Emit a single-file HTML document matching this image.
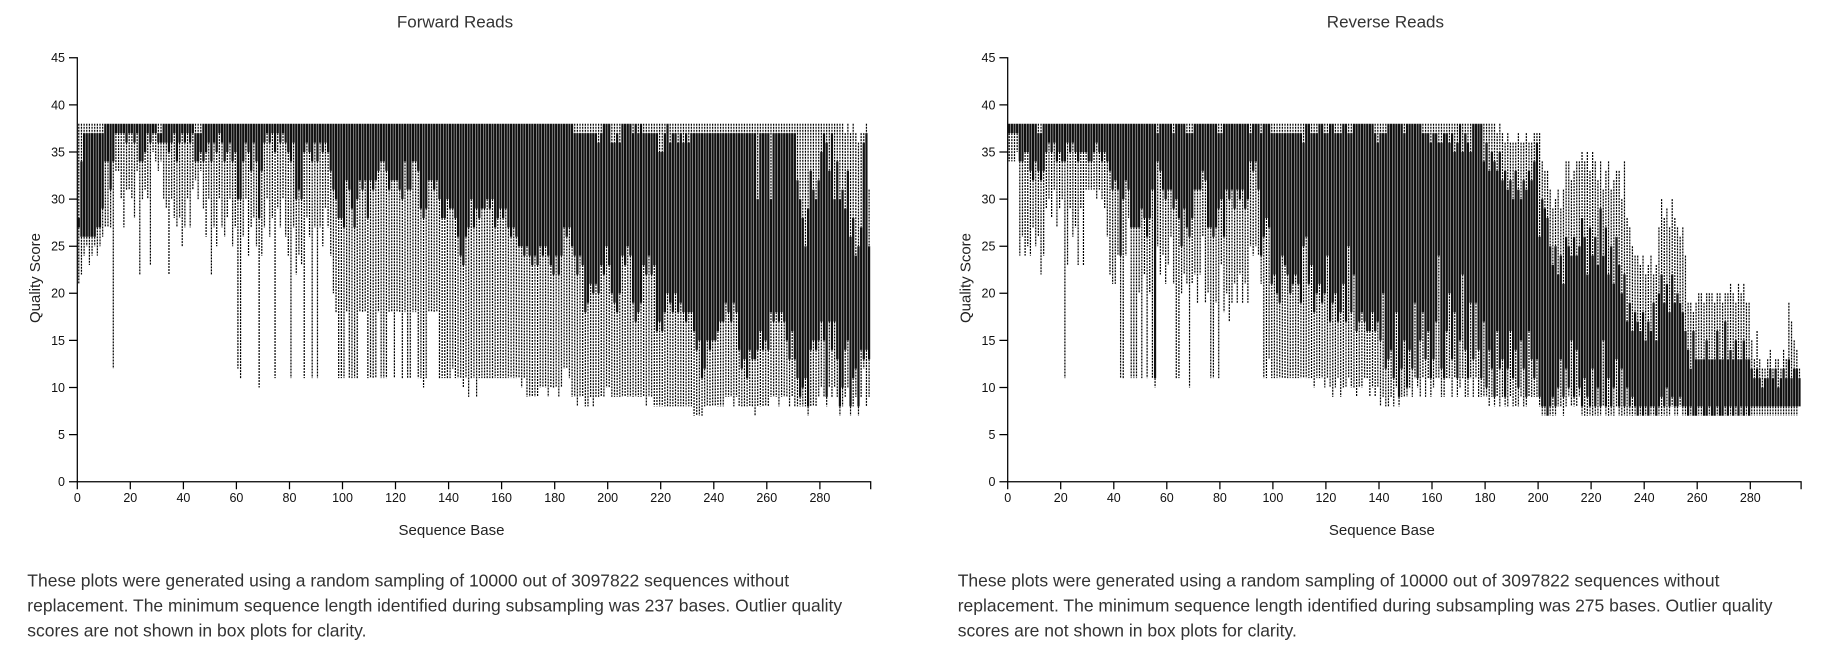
<!DOCTYPE html>
<html><head><meta charset="utf-8"><style>
html,body{margin:0;padding:0;background:#fff;}
svg{display:block;}
text{font-family:"Liberation Sans",Arial,sans-serif;}
</style></head><body>
<svg width="1836" height="648" viewBox="0 0 1836 648" xmlns="http://www.w3.org/2000/svg">
<rect width="1836" height="648" fill="#fff"/>

<!-- Forward data -->
<g transform="matrix(2.652,0,0,-9.42,78.8,481.7)" fill="none">
<path stroke="#111" stroke-width="0.83" d="M0 28V27M1 34V26M2 37V26M3 37V26M4 37V26M5 37V26M6 37V26M7 37V27M8 37V27M9 37V29M10 38V34M11 38V34M12 38V31M13 38V34M14 38V37M15 38V37M16 38V37M17 38V37M18 38V36M19 38V37M20 38V37M21 38V36M22 38V37M23 38V34M24 38V34M25 38V35M26 38V37M27 38V36M28 38V37M29 38V37M30 37V36M31 37V36M32 38V36M33 38V36M34 38V35M35 38V36M36 38V37M37 38V34M38 38V36M39 38V37M40 38V36M41 38V37M42 38V36M43 38V37M44 37V34M45 37V34M46 37V35M47 38V34M48 38V35M49 38V36M50 38V34M51 38V36M52 38V35M53 38V37M54 38V36M55 38V34M56 38V35M57 38V36M58 38V34M59 38V35M60 38V30M61 38V30M62 38V34M63 38V36M64 38V35M65 38V33M66 38V36M67 38V34M68 38V28M69 38V33M70 38V36M71 38V37M72 38V36M73 38V37M74 38V35M75 38V37M76 38V36M77 38V37M78 38V36M79 38V35M80 38V34M81 38V36M82 38V30M83 38V31M84 38V30M85 38V35M86 38V36M87 38V35M88 38V34M89 38V36M90 38V34M91 38V36M92 38V35M93 38V36M94 38V35M95 38V33M96 38V31M97 38V30M98 38V28M99 38V28M100 38V27M101 38V32M102 38V31M103 38V29M104 38V27M105 38V30M106 38V32M107 38V31M108 38V32M109 38V28M110 38V32M111 38V31M112 38V32M113 38V33M114 38V34M115 38V34M116 38V33M117 38V31M118 38V32M119 38V32M120 38V32M121 38V31M122 38V30M123 38V34M124 38V31M125 38V31M126 38V34M127 38V34M128 38V33M129 38V29M130 38V28M131 38V29M132 38V32M133 38V32M134 38V31M135 38V32M136 38V30M137 38V28M138 38V28M139 38V30M140 38V29M141 38V29M142 38V28M143 38V26M144 38V24M145 38V23M146 38V26M147 38V27M148 38V30M149 38V27M150 38V29M151 38V28M152 38V29M153 38V29M154 38V30M155 38V29M156 38V30M157 38V27M158 38V28M159 38V29M160 38V28M161 38V29M162 38V27M163 38V26M164 38V27M165 38V26M166 38V25M167 38V25M168 38V24M169 38V25M170 38V24M171 38V23M172 38V24M173 38V23M174 38V25M175 38V24M176 38V25M177 38V24M178 38V23M179 38V22M180 38V24M181 38V22M182 38V24M183 38V27M184 38V26M185 38V27M186 38V25M187 37V24M188 37V22M189 37V24M190 37V23M191 37V18M192 37V19M193 37V21M194 37V20M195 37V21M196 36V20M197 37V23M198 38V22M199 38V25M200 38V23M201 36V20M202 36V19M203 37V18M204 36V20M205 38V24M206 38V23M207 38V25M208 38V24M209 37V19M210 38V17M211 37V18M212 38V19M213 37V23M214 37V22M215 37V24M216 37V22M217 37V23M218 37V16M219 35V17M220 35V16M221 37V18M222 38V20M223 36V19M224 37V18M225 37V20M226 36V18M227 37V19M228 36V18M229 37V17M230 36V18M231 37V18M232 37V16M233 37V14M234 37V15M235 37V11M236 37V12M237 37V15M238 37V14M239 37V15M240 37V15M241 37V16M242 37V17M243 37V17M244 37V19M245 37V18M246 37V17M247 37V19M248 37V18M249 37V14M250 37V12M251 37V13M252 37V11M253 37V14M254 37V13M255 37V13M256 30V14M257 37V16M258 37V14M259 37V15M260 37V14M261 30V18M262 37V17M263 37V18M264 37V17M265 37V18M266 37V17M267 37V15M268 37V13M269 37V16M270 37V13M271 32V11M272 30V9M273 28V10M274 25V11M275 29V8M276 33V14M277 31V15M278 30V14M279 32V15M280 35V17M281 37V15M282 36V9M283 33V17M284 37V14M285 30V17M286 34V13M287 30V8M288 31V10M289 29V14M290 33V15M291 26V8M292 28V11M293 24V12M294 25V8M295 27V14M296 36V13M297 37V14M298 25V13"/>
<path stroke="#000" stroke-width="0.4525" stroke-dasharray="0.2123 0.1062" d="M0 38V28M0 27V21M1 38V34M1 26V22M2 38V37M2 26V24M3 38V37M3 26V25M4 38V37M4 26V23M5 38V37M5 26V24M6 38V37M6 26V25M7 38V37M7 27V24M8 38V37M8 27V25M9 38V37M9 29V26M10 34V27M11 34V27M12 31V27M13 34V12M14 37V33M15 37V33M16 37V30M17 37V27M18 36V31M19 37V31M20 37V30M21 36V28M22 37V33M23 34V22M24 34V30M25 35V31M26 37V30M27 36V23M28 37V35M29 37V34M30 38V37M30 36V33M31 38V37M31 36V34M32 36V30M33 36V29M34 35V22M35 36V30M36 37V28M37 34V27M38 36V28M39 37V25M40 36V27M41 37V30M42 36V27M43 37V31M44 38V37M44 34V32M45 38V37M45 34V30M46 38V37M46 35V33M47 34V29M48 35V26M49 36V30M50 34V22M51 36V27M52 35V25M53 37V30M54 36V27M55 34V26M56 35V28M57 36V30M58 34V25M59 35V27M60 30V12M61 30V11M62 34V26M63 36V30M64 35V24M65 33V27M66 36V28M67 34V25M68 28V10M69 33V24M70 36V27M71 37V30M72 36V26M73 37V28M74 35V11M75 37V29M76 36V27M77 37V30M78 36V26M79 35V24M80 34V11M81 36V27M82 30V22M83 31V24M84 30V23M85 35V11M86 36V28M87 35V26M88 34V11M89 36V27M90 34V11M91 36V27M92 35V25M93 36V29M94 35V27M95 33V24M96 31V20M97 30V18M98 28V11M99 28V11M100 27V11M101 32V18M102 31V11M103 29V11M104 27V11M105 30V11M106 32V18M107 31V18M108 32V18M109 28V11M110 32V11M111 31V11M112 32V11M113 33V18M114 34V11M115 34V11M116 33V11M117 31V18M118 32V18M119 32V11M120 32V18M121 31V18M122 30V11M123 34V18M124 31V11M125 31V11M126 34V18M127 34V18M128 33V11M129 29V11M130 28V10M131 29V11M132 32V18M133 32V18M134 31V18M135 32V18M136 30V11M137 28V11M138 28V11M139 30V11M140 29V11M141 29V12M142 28V11M143 26V11M144 24V11M145 23V10M146 26V11M147 27V9M148 30V11M149 27V11M150 29V9M151 28V11M152 29V11M153 29V11M154 30V11M155 29V11M156 30V11M157 27V11M158 28V11M159 29V11M160 28V11M161 29V11M162 27V11M163 26V11M164 27V11M165 26V11M166 25V11M167 25V10M168 24V11M169 25V9M170 24V9M171 23V9M172 24V9M173 23V9M174 25V10M175 24V10M176 25V10M177 24V9M178 23V10M179 22V10M180 24V10M181 22V9M182 24V10M183 27V12M184 26V12M185 27V11M186 25V9M187 38V37M187 24V9M188 38V37M188 22V8M189 38V37M189 24V9M190 38V37M190 23V9M191 38V37M191 18V8M192 38V37M192 19V8M193 38V37M193 21V9M194 38V37M194 20V8M195 38V37M195 21V9M196 38V36M196 20V9M197 38V37M197 23V9M198 22V9M199 25V10M200 23V10M201 38V36M201 20V9M202 38V36M202 19V9M203 38V37M203 18V9M204 38V36M204 20V9M205 24V9M206 23V9M207 25V9M208 24V9M209 38V37M209 19V9M210 17V9M211 38V37M211 18V9M212 19V9M213 38V37M213 23V9M214 38V37M214 22V8M215 38V37M215 24V9M216 38V37M216 22V9M217 38V37M217 23V8M218 38V37M218 16V8M219 38V35M219 17V8M220 38V35M220 16V8M221 38V37M221 18V8M222 20V8M223 38V36M223 19V8M224 38V37M224 18V8M225 38V37M225 20V8M226 38V36M226 18V8M227 38V37M227 19V8M228 38V36M228 18V8M229 38V37M229 17V8M230 38V36M230 18V8M231 38V37M231 18V8M232 38V37M232 16V7M233 38V37M233 14V7M234 38V37M234 15V7M235 38V37M235 11V7M236 38V37M236 12V8M237 38V37M237 15V8M238 38V37M238 14V8M239 38V37M239 15V8M240 38V37M240 15V8M241 38V37M241 16V8M242 38V37M242 17V8M243 38V37M243 17V8M244 38V37M244 19V9M245 38V37M245 18V9M246 38V37M246 17V9M247 38V37M247 19V8M248 38V37M248 18V9M249 38V37M249 14V8M250 38V37M250 12V8M251 38V37M251 13V8M252 38V37M252 11V8M253 38V37M253 14V8M254 38V37M254 13V8M255 38V37M255 13V7M256 38V30M256 14V8M257 38V37M257 16V8M258 38V37M258 14V8M259 38V37M259 15V8M260 38V37M260 14V8M261 38V30M261 18V9M262 38V37M262 17V9M263 38V37M263 18V9M264 38V37M264 17V8M265 38V37M265 18V9M266 38V37M266 17V9M267 38V37M267 15V9M268 38V37M268 13V8M269 38V37M269 16V9M270 38V37M270 13V8M271 38V32M271 11V8M272 38V30M272 9V8M273 38V28M273 10V8M274 38V25M274 11V8M275 38V29M275 8V7M276 38V33M276 14V8M277 38V31M277 15V8M278 38V30M278 14V8M279 38V32M279 15V9M280 38V35M280 17V10M281 38V37M281 15V9M282 38V36M282 9V8M283 38V33M283 17V10M284 38V37M284 14V9M285 38V30M285 17V10M286 38V34M286 13V9M287 38V30M287 8V7M288 38V31M288 10V8M289 37V29M289 14V9M290 38V33M290 15V10M291 37V26M291 8V7M292 38V28M292 11V8M293 37V24M293 12V9M294 36V25M294 8V7M295 37V27M295 14V9M296 37V36M296 13V12M297 38V37M297 14V8M298 31V25M298 13V9"/>
</g>

<!-- Reverse data -->
<g transform="matrix(2.652,0,0,-9.42,1009.2,481.7)" fill="none">
<path stroke="#111" stroke-width="0.83" d="M0 38V37M1 38V37M2 38V37M3 38V37M4 38V34M5 38V34M6 38V35M7 38V35M8 38V33M9 38V32M10 38V34M11 37V33M12 37V32M13 38V33M14 38V35M15 38V36M16 38V35M17 38V36M18 38V34M19 38V35M20 38V34M21 38V34M22 38V36M23 38V35M24 38V36M25 38V35M26 38V34M27 38V35M28 38V35M29 38V35M30 38V34M31 38V34M32 38V35M33 38V36M34 38V35M35 38V34M36 38V35M37 38V34M38 38V33M39 38V31M40 38V32M41 38V31M42 38V24M43 38V30M44 38V32M45 38V31M46 38V27M47 38V27M48 38V27M49 38V27M50 38V29M51 38V28M52 38V26M53 38V28M54 38V31M55 38V11M56 37V34M57 38V33M58 38V31M59 38V30M60 38V31M61 38V31M62 37V29M63 38V30M64 38V28M65 38V25M66 38V29M67 37V27M68 37V26M69 37V28M70 38V31M71 38V31M72 38V31M73 38V33M74 38V32M75 38V27M76 38V27M77 38V26M78 38V27M79 37V29M80 37V30M81 38V26M82 38V31M83 38V30M84 38V31M85 38V29M86 38V31M87 38V30M88 38V31M89 38V29M90 38V30M91 37V34M92 38V33M93 38V34M94 38V31M95 37V24M96 38V26M97 38V28M98 38V27M99 37V21M100 37V22M101 37V20M102 37V19M103 37V24M104 37V23M105 37V22M106 37V20M107 37V21M108 37V22M109 37V21M110 37V19M111 36V25M112 38V26M113 38V21M114 37V23M115 37V18M116 37V20M117 38V21M118 38V19M119 37V20M120 37V24M121 38V17M122 38V19M123 37V20M124 37V17M125 37V18M126 38V21M127 38V17M128 37V25M129 37V18M130 38V22M131 38V16M132 38V17M133 38V18M134 38V17M135 38V16M136 38V16M137 38V18M138 37V16M139 36V17M140 37V15M141 37V20M142 37V12M143 38V13M144 38V14M145 38V11M146 38V18M147 38V9M148 38V12M149 37V15M150 38V10M151 38V14M152 38V12M153 38V19M154 38V11M155 38V15M156 37V18M157 37V13M158 37V16M159 36V11M160 37V13M161 37V17M162 36V24M163 36V12M164 37V11M165 37V16M166 36V20M167 37V13M168 35V18M169 36V11M170 38V15M171 35V22M172 37V14M173 36V11M174 35V19M175 38V13M176 38V19M177 38V14M178 38V11M179 34V17M180 36V10M181 33V14M182 35V12M183 34V9M184 33V16M185 35V12M186 32V13M187 33V9M188 31V12M189 32V16M190 30V11M191 33V14M192 31V10M193 30V15M194 32V12M195 31V9M196 33V16M197 32V13M198 34V11M199 36V13M200 26V9M201 30V8M202 29V8M203 28V7M204 25V8M205 23V9M206 25V8M207 22V10M208 24V13M209 21V9M210 26V12M211 25V10M212 24V15M213 26V9M214 24V14M215 25V10M216 28V8M217 26V11M218 22V9M219 27V8M220 24V12M221 26V8M222 23V10M223 29V8M224 24V15M225 27V8M226 22V11M227 25V8M228 21V10M229 26V13M230 23V8M231 20V12M232 22V8M233 17V10M234 19V8M235 16V9M236 18V8M237 17V7M238 16V8M239 18V7M240 15V8M241 17V7M242 16V8M243 19V8M244 15V7M245 20V8M246 22V9M247 19V8M248 21V10M249 18V8M250 22V9M251 19V8M252 20V8M253 19V9M254 18V8M255 16V8M256 14V7M257 12V8M258 16V7M259 13V7M260 13V8M261 13V8M262 13V7M263 15V7M264 13V8M265 13V7M266 13V7M267 16V8M268 13V7M269 13V7M270 17V8M271 13V7M272 14V8M273 13V7M274 15V8M275 13V7M276 13V8M277 15V7M278 13V8M279 13V7M280 12V8M281 11V8M282 12V8M283 11V8M284 10V8M285 11V8M286 11V8M287 12V8M288 11V8M289 12V8M290 10V8M291 11V8M292 12V8M293 11V8M294 13V8M295 11V8M296 12V8M297 12V8M298 11V8"/>
<path stroke="#000" stroke-width="0.4525" stroke-dasharray="0.2123 0.1062" d="M0 37V34M1 37V34M2 37V34M3 37V35M4 34V24M5 34V26M6 35V24M7 35V25M8 33V24M9 32V27M10 34V25M11 38V37M11 33V26M12 38V37M12 32V22M13 33V24M14 35V29M15 36V30M16 35V28M17 36V31M18 34V27M19 35V29M20 34V30M21 34V11M22 36V23M23 35V29M24 36V26M25 35V27M26 34V23M27 35V29M28 35V23M29 35V31M30 34V31M31 34V31M32 35V31M33 36V30M34 35V31M35 34V30M36 35V29M37 34V26M38 33V22M39 31V21M40 32V21M41 31V24M42 24V11M43 30V11M44 32V24M45 31V28M46 27V11M47 27V11M48 27V11M49 27V20M50 29V11M51 28V22M52 26V11M53 28V20M54 31V11M55 11V10M56 38V37M56 34V25M57 33V22M58 31V24M59 30V21M60 31V23M61 31V26M62 38V37M62 29V21M63 30V11M64 28V11M65 25V20M66 29V22M67 38V37M67 27V21M68 38V37M68 26V10M69 38V37M69 28V21M70 31V22M71 31V19M72 31V22M73 33V26M74 32V19M75 27V20M76 27V11M77 26V11M78 27V19M79 38V37M79 29V11M80 38V37M80 30V23M81 26V18M82 31V20M83 30V17M84 31V19M85 29V21M86 31V19M87 30V22M88 31V19M89 29V21M90 30V19M91 38V37M91 34V25M92 33V24M93 34V25M94 31V24M95 38V37M95 24V21M96 26V11M97 28V11M98 27V13M99 38V37M99 21V11M100 38V37M100 22V11M101 38V37M101 20V11M102 38V37M102 19V11M103 38V37M103 24V11M104 38V37M104 23V11M105 38V37M105 22V11M106 38V37M106 20V11M107 38V37M107 21V11M108 38V37M108 22V11M109 38V37M109 21V11M110 38V37M110 19V11M111 38V36M111 25V11M112 26V11M113 21V11M114 38V37M114 23V11M115 38V37M115 18V10M116 38V37M116 20V11M117 21V11M118 19V11M119 38V37M119 20V10M120 38V37M120 24V11M121 17V10M122 19V9M123 38V37M123 20V10M124 38V37M124 17V11M125 38V37M125 18V9M126 21V10M127 17V10M128 38V37M128 25V11M129 38V37M129 18V10M130 22V10M131 16V9M132 17V10M133 18V10M134 17V11M135 16V11M136 16V9M137 18V10M138 38V37M138 16V9M139 38V36M139 17V10M140 38V37M140 15V8M141 38V37M141 20V9M142 38V37M142 12V8M143 13V8M144 14V9M145 11V8M146 18V10M147 9V8M148 12V9M149 38V37M149 15V9M150 10V9M151 14V10M152 12V9M153 19V11M154 11V10M155 15V9M156 38V37M156 18V11M157 38V37M157 13V9M158 38V37M158 16V11M159 38V36M159 11V9M160 38V37M160 13V10M161 38V37M161 17V11M162 38V36M162 24V11M163 38V36M163 12V9M164 38V37M164 11V9M165 38V37M165 16V11M166 38V36M166 20V11M167 38V37M167 13V9M168 38V35M168 18V11M169 38V36M169 11V9M170 15V10M171 38V35M171 22V11M172 38V37M172 14V9M173 38V36M173 11V9M174 38V35M174 19V11M175 13V9M176 19V11M177 14V9M178 11V9M179 38V34M179 17V9M180 38V36M180 10V9M181 38V33M181 14V8M182 38V35M182 12V9M183 38V34M183 9V8M184 37V33M184 16V9M185 38V35M185 12V8M186 37V32M186 13V9M187 36V33M187 9V8M188 37V31M188 12V8M189 36V32M189 16V9M190 36V30M190 11V8M191 36V33M191 14V8M192 37V31M192 10V8M193 36V30M193 15V9M194 36V32M194 12V8M195 37V31M195 9V8M196 36V33M196 16V9M197 36V32M197 13V9M198 37V34M198 11V9M199 37V36M199 13V9M200 37V26M200 9V8M201 34V30M201 8V7M202 33V29M202 8V7M203 33V28M204 31V25M204 8V7M205 29V23M205 9V7M206 30V25M206 8V7M207 31V22M207 10V8M208 29V24M208 13V8M209 31V21M209 9V7M210 34V26M210 12V8M211 34V25M211 10V9M212 32V24M212 15V8M213 33V26M213 9V8M214 34V24M214 14V8M215 34V25M215 10V9M216 35V28M216 8V7M217 34V26M217 11V7M218 35V22M218 9V7M219 33V27M219 8V7M220 35V24M220 12V7M221 34V26M221 8V7M222 32V23M222 10V7M223 34V29M223 8V7M224 31V24M224 15V8M225 33V27M225 8V7M226 34V22M226 11V7M227 31V25M227 8V7M228 32V21M228 10V7M229 33V26M229 13V8M230 33V23M230 8V7M231 30V20M231 12V7M232 34V22M232 8V7M233 28V17M233 10V7M234 27V19M234 8V7M235 25V16M235 9V7M236 24V18M236 8V7M237 24V17M238 23V16M238 8V7M239 24V18M240 22V15M240 8V7M241 23V17M242 24V16M242 8V7M243 22V19M243 8V7M244 23V15M245 27V20M245 8V7M246 30V22M246 9V7M247 28V19M247 8V7M248 29V21M248 10V7M249 27V18M249 8V7M250 30V22M250 9V8M251 28V19M251 8V7M252 27V20M252 8V7M253 26V19M253 9V8M254 27V18M254 8V7M255 24V16M255 8V7M256 19V14M257 19V12M257 8V7M258 18V16M259 19V13M260 20V13M260 8V7M261 20V13M261 8V7M262 19V13M263 20V15M264 20V13M264 8V7M265 20V13M266 19V13M267 20V16M267 8V7M268 20V13M269 19V13M270 20V17M270 8V7M271 20V13M272 21V14M272 8V7M273 20V13M274 19V15M274 8V7M275 21V13M276 20V13M276 8V7M277 21V15M278 19V13M278 8V7M279 19V13M280 15V12M280 8V7M281 13V11M281 8V7M282 16V12M282 8V7M283 13V11M283 8V7M284 12V10M284 8V7M285 12V11M285 8V7M286 13V11M286 8V7M287 14V12M287 8V7M288 12V11M288 8V7M289 13V12M289 8V7M290 13V10M290 8V7M291 12V11M291 8V7M292 14V12M292 8V7M293 13V11M293 8V7M294 19V13M294 8V7M295 17V11M295 8V7M296 15V12M296 8V7M297 14V12M297 8V7M298 12V11"/>
</g>

<!-- Left axes -->
<g fill="none" stroke="#000" stroke-width="1.25">
<path d="M69 57.8H77.3V481.7H69"/>
<path d="M69 434.6H77.3M69 387.5H77.3M69 340.4H77.3M69 293.3H77.3M69 246.2H77.3M69 199.1H77.3M69 152H77.3M69 104.9H77.3"/>
<path d="M77.3 489.2V481.7H870.7V489.2"/>
<path d="M130.3 481.7V489.2M183.4 481.7V489.2M236.4 481.7V489.2M289.5 481.7V489.2M342.5 481.7V489.2M395.5 481.7V489.2M448.6 481.7V489.2M501.6 481.7V489.2M554.7 481.7V489.2M607.7 481.7V489.2M660.7 481.7V489.2M713.8 481.7V489.2M766.8 481.7V489.2M819.9 481.7V489.2"/>
</g>
<g font-size="12.5" fill="#111" text-anchor="end">
<text x="65" y="486.1">0</text><text x="65" y="439">5</text><text x="65" y="391.9">10</text><text x="65" y="344.8">15</text><text x="65" y="297.7">20</text><text x="65" y="250.6">25</text><text x="65" y="203.5">30</text><text x="65" y="156.4">35</text><text x="65" y="109.3">40</text><text x="65" y="62.2">45</text>
</g>
<g font-size="12.5" fill="#111" text-anchor="middle">
<text x="77.3" y="501.8">0</text><text x="130.3" y="501.8">20</text><text x="183.4" y="501.8">40</text><text x="236.4" y="501.8">60</text><text x="289.5" y="501.8">80</text><text x="342.5" y="501.8">100</text><text x="395.5" y="501.8">120</text><text x="448.6" y="501.8">140</text><text x="501.6" y="501.8">160</text><text x="554.7" y="501.8">180</text><text x="607.7" y="501.8">200</text><text x="660.7" y="501.8">220</text><text x="713.8" y="501.8">240</text><text x="766.8" y="501.8">260</text><text x="819.9" y="501.8">280</text>
</g>
<text x="455" y="27.3" font-size="17" fill="#333" text-anchor="middle">Forward Reads</text>
<text x="451.5" y="535" font-size="15" fill="#222" text-anchor="middle">Sequence Base</text>
<text transform="translate(40,278) rotate(-90)" font-size="15" fill="#222" text-anchor="middle">Quality Score</text>
<g font-size="17.5" fill="#333">
<text x="27.3" y="586.7">These plots were generated using a random sampling of 10000 out of 3097822 sequences without</text>
<text x="27.3" y="611.7">replacement. The minimum sequence length identified during subsampling was 237 bases. Outlier quality</text>
<text x="27.3" y="636.7">scores are not shown in box plots for clarity.</text>
</g>

<!-- Right axes -->
<g transform="translate(930.4,0)">
<g fill="none" stroke="#000" stroke-width="1.25">
<path d="M69 57.8H77.3V481.7H69"/>
<path d="M69 434.6H77.3M69 387.5H77.3M69 340.4H77.3M69 293.3H77.3M69 246.2H77.3M69 199.1H77.3M69 152H77.3M69 104.9H77.3"/>
<path d="M77.3 489.2V481.7H870.7V489.2"/>
<path d="M130.3 481.7V489.2M183.4 481.7V489.2M236.4 481.7V489.2M289.5 481.7V489.2M342.5 481.7V489.2M395.5 481.7V489.2M448.6 481.7V489.2M501.6 481.7V489.2M554.7 481.7V489.2M607.7 481.7V489.2M660.7 481.7V489.2M713.8 481.7V489.2M766.8 481.7V489.2M819.9 481.7V489.2"/>
</g>
<g font-size="12.5" fill="#111" text-anchor="end">
<text x="65" y="486.1">0</text><text x="65" y="439">5</text><text x="65" y="391.9">10</text><text x="65" y="344.8">15</text><text x="65" y="297.7">20</text><text x="65" y="250.6">25</text><text x="65" y="203.5">30</text><text x="65" y="156.4">35</text><text x="65" y="109.3">40</text><text x="65" y="62.2">45</text>
</g>
<g font-size="12.5" fill="#111" text-anchor="middle">
<text x="77.3" y="501.8">0</text><text x="130.3" y="501.8">20</text><text x="183.4" y="501.8">40</text><text x="236.4" y="501.8">60</text><text x="289.5" y="501.8">80</text><text x="342.5" y="501.8">100</text><text x="395.5" y="501.8">120</text><text x="448.6" y="501.8">140</text><text x="501.6" y="501.8">160</text><text x="554.7" y="501.8">180</text><text x="607.7" y="501.8">200</text><text x="660.7" y="501.8">220</text><text x="713.8" y="501.8">240</text><text x="766.8" y="501.8">260</text><text x="819.9" y="501.8">280</text>
</g>
<text x="455" y="27.3" font-size="17" fill="#333" text-anchor="middle">Reverse Reads</text>
<text x="451.5" y="535" font-size="15" fill="#222" text-anchor="middle">Sequence Base</text>
<text transform="translate(40,278) rotate(-90)" font-size="15" fill="#222" text-anchor="middle">Quality Score</text>
<g font-size="17.5" fill="#333">
<text x="27.3" y="586.7">These plots were generated using a random sampling of 10000 out of 3097822 sequences without</text>
<text x="27.3" y="611.7">replacement. The minimum sequence length identified during subsampling was 275 bases. Outlier quality</text>
<text x="27.3" y="636.7">scores are not shown in box plots for clarity.</text>
</g>
</g>
</svg>
</body></html>
